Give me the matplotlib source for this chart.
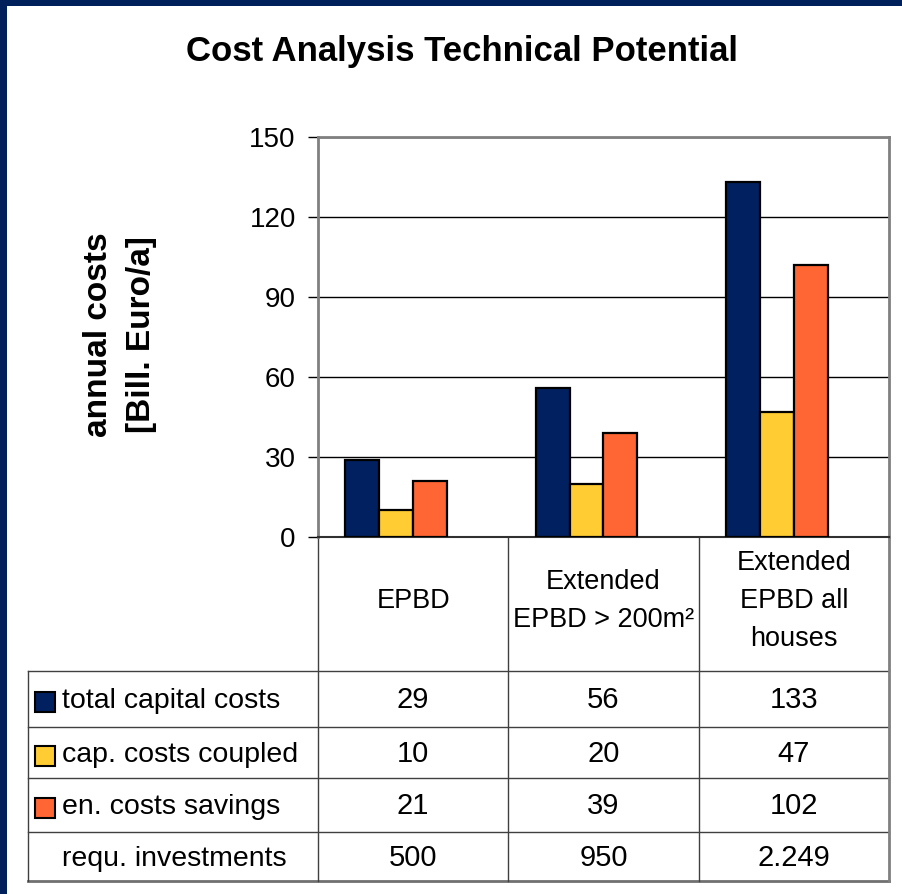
import matplotlib
matplotlib.use("Agg")
import matplotlib.pyplot as plt
import matplotlib.transforms as mtransforms
from matplotlib.patches import Rectangle

plt.rcParams['font.family'] = ['Liberation Sans', 'DejaVu Sans']

# ---- data ----
title = "Cost Analysis Technical Potential"
y_label = "annual costs\n[Bill. Euro/a]"
categories = ["EPBD", "Extended\nEPBD > 200m²", "Extended\nEPBD all\nhouses"]
series_names = ["total capital costs", "cap. costs coupled", "en. costs savings"]
total_capital_costs = [29, 56, 133]
cap_costs_coupled = [10, 20, 47]
en_costs_savings = [21, 39, 102]
investments_label = "requ. investments"
requ_investments = ["500", "950", "2.249"]
y_ticks = [0, 30, 60, 90, 120, 150]
series_colors = ["#002060", "#FFCC33", "#FF6633"]

series_values = [total_capital_costs, cap_costs_coupled, en_costs_savings]

# ---- layout ----
W, H = 903, 894
fig = plt.figure(figsize=(W / 100, H / 100), dpi=100)
fig.patch.set_facecolor("white")
over = fig.add_axes([0, 0, 1, 1])
over.set_xlim(0, W)
over.set_ylim(H, 0)
over.axis("off")

border = "#00205B"
over.add_patch(Rectangle((0, 0), W, 6, color=border, lw=0))
over.add_patch(Rectangle((0, 0), 7, H, color=border, lw=0))

L, R, T, B = 318, 889, 137, 537
ax = fig.add_axes([L / W, 1 - B / H, (R - L) / W, (B - T) / H])
ax.set_zorder(2)

n_slots = 4
bw = 0.1786
xs = list(range(len(categories)))
for k, (vals, col) in enumerate(zip(series_values, series_colors)):
    pos = [x - n_slots * bw / 2 + k * bw + bw / 2 for x in xs]
    ax.bar(pos, vals, width=bw, color=col, edgecolor="black", linewidth=1.6, zorder=3)

ax.set_xlim(-0.5, len(categories) - 0.5)
ax.set_ylim(0, 150)
ax.set_yticks(y_ticks)
ax.set_xticks([])
ax.yaxis.grid(True, color="black", lw=1)
ax.set_axisbelow(True)
ax.tick_params(axis="y", length=7, width=1, color="black", labelsize=20, pad=9)
for s in ["top", "right", "left"]:
    ax.spines[s].set_color("#808080")
    ax.spines[s].set_linewidth(2)
ax.spines["bottom"].set_color("#303030")
ax.spines["bottom"].set_linewidth(1.5)

# title & y label
over.text(462, 52, title, ha="center", va="center", fontsize=25, weight="bold")
over.text(120, 335, y_label, ha="center", va="center", fontsize=24, weight="bold",
          rotation=90, multialignment="center", linespacing=1.5)

# ---- table below ----
blend = mtransforms.blended_transform_factory(ax.transData, over.transData)
line_c = "#404040"
row_edges = [671, 727, 778, 832, 881]
tbl_left = 28
for y in row_edges[:-1]:
    over.plot([tbl_left, R], [y, y], color=line_c, lw=1)
over.plot([tbl_left, R], [row_edges[-1], row_edges[-1]], color="#707070", lw=2)
over.plot([tbl_left, tbl_left], [row_edges[0], row_edges[-1]], color=line_c, lw=1)
bounds = [i - 0.5 for i in range(len(categories) + 1)]
for b in bounds:
    c = "#808080" if b == bounds[-1] else line_c
    ax_lw = 2 if b == bounds[-1] else 1
    over.plot([b, b], [B, row_edges[-1]], color=c, lw=ax_lw, transform=blend, clip_on=False)

for i, cat in enumerate(categories):
    over.text(i, 601, cat, transform=blend, ha="center", va="center", fontsize=19.5,
              linespacing=1.6, multialignment="center")

row_centers = [(row_edges[j] + row_edges[j + 1]) / 2 for j in range(len(row_edges) - 1)]
row_labels = series_names + [investments_label]
row_values = [[str(v) for v in vals] for vals in series_values] + [requ_investments]
for j, (lab, vals) in enumerate(zip(row_labels, row_values)):
    yc = row_centers[j]
    if j < len(series_colors):
        over.add_patch(Rectangle((35, yc - 7), 20, 20, facecolor=series_colors[j],
                                 edgecolor="black", lw=1.5))
    over.text(62, yc + 2, lab, ha="left", va="center", fontsize=20.5)
    for i, v in enumerate(vals):
        over.text(i, yc + 1, v, transform=blend, ha="center", va="center", fontsize=21)

fig.savefig("out.png", dpi=100, facecolor="white")
